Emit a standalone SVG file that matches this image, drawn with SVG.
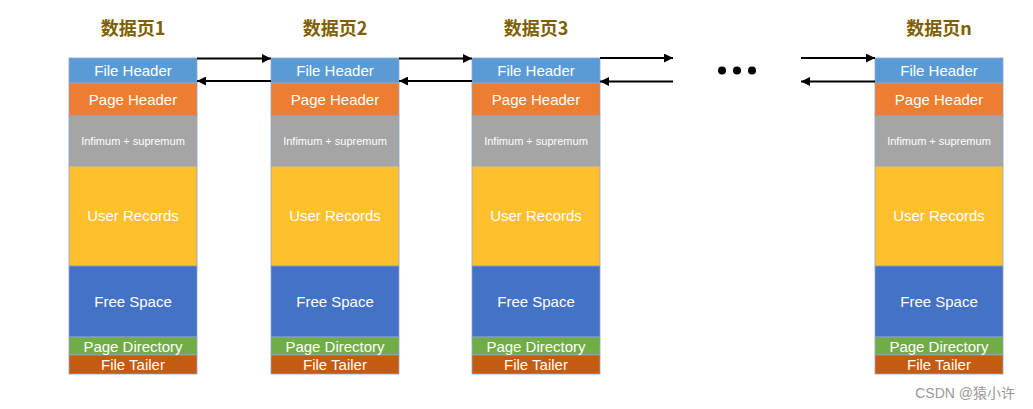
<svg xmlns="http://www.w3.org/2000/svg" width="1033" height="409" viewBox="0 0 1033 409">
<defs>
<marker id="ah" viewBox="0 0 10 10" refX="10" refY="5" markerWidth="9" markerHeight="9" markerUnits="userSpaceOnUse" orient="auto"><path d="M0,0 L10,5 L0,10 z" fill="#000"/></marker>
<style>
.t{font-family:"Noto Sans CJK SC","Liberation Sans",sans-serif;font-weight:bold;font-size:18px;fill:#7F6000;text-anchor:middle}
.l{font-family:"Liberation Sans",Arial,sans-serif;font-size:15px;fill:#fff;text-anchor:middle}
.s{font-family:"Liberation Sans",Arial,sans-serif;font-size:11px;fill:#fff;text-anchor:middle}
.b{stroke:#8FA6C8;stroke-width:0.8}
.fh{fill:#5B9BD5}.ph{fill:#ED7D31}.im{fill:#A5A5A5}.ur{fill:#FFC02D}.fs{fill:#4472C4}.pd{fill:#70AD47}.ft{fill:#C55A11}
.c{stroke:#000;stroke-width:2;fill:none;marker-end:url(#ah)}
</style>
<g id="page">
<rect class="b fh" x="0" y="58" width="128" height="25"/>
<rect class="b ph" x="0" y="83" width="128" height="33"/>
<rect class="b im" x="0" y="116" width="128" height="50"/>
<rect class="b ur" x="0" y="166" width="128" height="100"/>
<rect class="b fs" x="0" y="266" width="128" height="71"/>
<rect class="b pd" x="0" y="337" width="128" height="18"/>
<rect class="b ft" x="0" y="355" width="128" height="19"/>
<text class="l" x="64" y="76">File Header</text>
<text class="l" x="64" y="105">Page Header</text>
<text class="s" x="64" y="145">Infimum + supremum</text>
<text class="l" x="64" y="221">User Records</text>
<text class="l" x="64" y="307">Free Space</text>
<text class="l" x="64" y="352">Page Directory</text>
<text class="l" x="64" y="370">File Tailer</text>
</g>
</defs>
<rect width="1033" height="409" fill="#fff"/>
<g id="node1"><text class="t" x="133" y="35">数据页1</text><use href="#page" x="69"/></g>
<g id="node2"><text class="t" x="335" y="35">数据页2</text><use href="#page" x="271"/></g>
<g id="node3"><text class="t" x="536" y="35">数据页3</text><use href="#page" x="472"/></g>
<g id="noden"><text class="t" x="939" y="35">数据页n</text><use href="#page" x="875"/></g>
<g id="ellipsis" fill="#000"><circle cx="722" cy="70.5" r="4"/><circle cx="737" cy="70.5" r="4"/><circle cx="752" cy="70.5" r="4"/></g>
<g id="connectors">
<line class="c" x1="197" y1="58.5" x2="271" y2="58.5"/>
<line class="c" x1="271" y1="81" x2="197" y2="81"/>
<line class="c" x1="399" y1="58.5" x2="472" y2="58.5"/>
<line class="c" x1="472" y1="81" x2="399" y2="81"/>
<line class="c" x1="600" y1="58" x2="673" y2="58"/>
<line class="c" x1="673" y1="81.5" x2="600" y2="81.5"/>
<line class="c" x1="801" y1="58" x2="875" y2="58"/>
<line class="c" x1="875" y1="81.5" x2="801" y2="81.5"/>
</g>
<text x="1015" y="398" font-family="'Liberation Sans','Noto Sans CJK SC',sans-serif" font-size="14" fill="#999" text-anchor="end">CSDN @猿小许</text>
</svg>
